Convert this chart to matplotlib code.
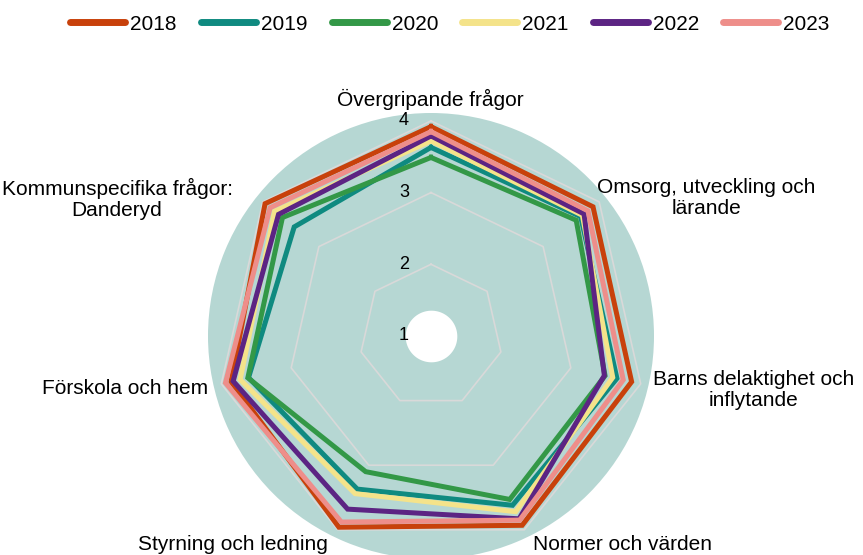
import matplotlib
matplotlib.use("Agg")
import matplotlib.pyplot as plt
import matplotlib.transforms as mtransforms
import numpy as np

plt.rcParams['font.family'] = ['Liberation Sans', 'DejaVu Sans']

# Data
categories = [
    "Övergripande frågor",
    "Omsorg, utveckling och\nlärande",
    "Barns delaktighet och\ninflytande",
    "Normer och värden",
    "Styrning och ledning",
    "Förskola och hem",
    "Kommunspecifika frågor:\nDanderyd",
]
years = ["2018", "2019", "2020", "2021", "2022", "2023"]
v2018 = [3.92, 3.89, 3.87, 3.93, 3.96, 3.86, 3.96]
v2019 = [3.63, 3.67, 3.66, 3.62, 3.37, 3.61, 3.44]
v2020 = [3.49, 3.59, 3.49, 3.53, 3.10, 3.62, 3.65]
v2021 = [3.72, 3.70, 3.60, 3.72, 3.44, 3.73, 3.79]
v2022 = [3.79, 3.73, 3.48, 3.83, 3.68, 3.83, 3.72]
v2023 = [3.85, 3.80, 3.75, 3.85, 3.88, 3.94, 3.87]
series = [v2018, v2019, v2020, v2021, v2022, v2023]
tick_values = [1, 2, 3, 4]

colors = ['#c8410b', '#0f8a80', '#339847', '#f4e38a', '#5c2483', '#ee8e8a']

W, H = 863, 555
fig = plt.figure(figsize=(W / 100, H / 100), dpi=100)

# polar axes: centre (431, 336) px, radius 223 px
cx, cy, R = 431, 336, 223
ax = fig.add_axes([(cx - R) / W, (H - cy - R) / H, 2 * R / W, 2 * R / H], projection='polar')
ax.set_theta_zero_location('N')
ax.set_theta_direction(-1)
ax.set_ylim(1, 4.11)
ax.set_facecolor('#b6d7d3')
ax.spines['polar'].set_visible(False)
ax.grid(False)
ax.set_xticks([])
ax.set_yticks([])

n = len(categories)
theta = np.linspace(0, 2 * np.pi, n, endpoint=False)
theta_c = np.append(theta, theta[0])

# heptagon gridlines
for t in tick_values[1:]:
    ax.plot(theta_c, [t] * (n + 1), color='#d9d9d9', lw=1.2, zorder=1)

# white hole in the middle
hole = np.linspace(0, 2 * np.pi, 200)
ax.fill_between(hole, 1, 1.36, color='white', zorder=1.5, lw=0)

for vals, col, yr in zip(series, colors, years):
    ax.plot(theta_c, vals + vals[:1], color=col, lw=3.6, label=yr, zorder=3,
            solid_joinstyle='miter')

# radial tick labels
off = mtransforms.offset_copy(ax.transData, fig=fig, x=-27, y=0, units='dots')
for t in tick_values:
    ax.text(0, t, str(t), transform=off, ha='center', va='center', fontsize=13, zorder=5)

# category labels (pixel centres)
label_pos = [(430, 99), (706, 198), (754, 390), (622, 545), (233, 545), (125, 389), (117, 199)]
for lab, (px, py) in zip(categories, label_pos):
    fig.text(px / W, 1 - py / H, lab, ha='center', va='center', fontsize=15,
             linespacing=1.15, color='black')

leg = fig.legend(loc='center', bbox_to_anchor=(450 / W, 1 - 24 / H), ncol=6, frameon=False,
                 fontsize=15, handlelength=2.65, handletextpad=0.24, columnspacing=1.15)
for line in leg.get_lines():
    line.set_linewidth(5)
    line.set_solid_capstyle('round')

fig.savefig('out.png', dpi=100)
